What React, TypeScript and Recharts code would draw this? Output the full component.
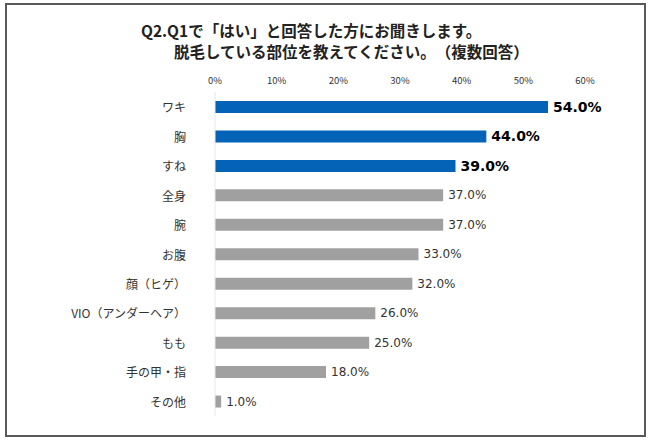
import { BarChart, Bar, XAxis, YAxis, Cell, LabelList } from "recharts";

const categories = [
  "ワキ",
  "胸",
  "すね",
  "全身",
  "腕",
  "お腹",
  "顔（ヒゲ）",
  "VIO（アンダーヘア）",
  "もも",
  "手の甲・指",
  "その他",
];
const values = [54, 44, 39, 37, 37, 33, 32, 26, 25, 18, 1];
const highlighted = [true, true, true, false, false, false, false, false, false, false, false];
const xTicks = [0, 10, 20, 30, 40, 50, 60];
const titleLines = [
  "Q2.Q1で「はい」と回答した方にお聞きします。",
  "脱毛している部位を教えてください。（複数回答）",
];

const data = categories.map((name, i) => ({ name, value: values[i], hl: highlighted[i] }));

const JP = '"Noto Sans CJK JP", "Noto Sans", sans-serif';

const CategoryTick = ({ x, y, payload }: any) => (
  <text
    x={x - 21}
    y={y}
    textAnchor="end"
    dominantBaseline="central"
    fontSize={12}
    fontFamily={JP}
    fill="#333"
  >
    {payload.value}
  </text>
);

const ValueLabel = ({ x, y, width, height, value, index }: any) => {
  const bold = highlighted[index];
  return (
    <text
      x={x + width + 5}
      y={y + height / 2}
      dominantBaseline="central"
      fontFamily='"DejaVu Sans", sans-serif'
      fontSize={bold ? 14 : 12}
      fontWeight={bold ? 700 : 400}
      fill={bold ? "#000" : "#333"}
    >
      {`${Number(value).toFixed(1)}%`}
    </text>
  );
};

export default function App() {
  return (
    <div
      style={{
        position: "absolute",
        left: 0,
        top: 0,
        width: 650,
        height: 443,
        background: "#fff",
        textSpacingTrim: "space-all",
      } as any}
    >
      <div
        style={{
          position: "absolute",
          left: 5,
          top: 3,
          width: 637,
          height: 430,
          border: "2px solid #595959",
        }}
      />
      <div
        style={{
          position: "absolute",
          left: 141,
          top: 20,
          fontFamily: JP,
          fontWeight: 700,
          fontSize: 15.5,
          lineHeight: "21px",
          color: "#222",
          whiteSpace: "nowrap",
        }}
      >
        <div>{titleLines[0]}</div>
        <div style={{ paddingLeft: 33 }}>{titleLines[1]}</div>
      </div>
      <div style={{ position: "absolute", left: 0, top: 0 }}>
        <BarChart
          width={650}
          height={443}
          data={data}
          layout="vertical"
          margin={{ top: 62, right: 65, bottom: 27, left: 0 }}
        >
          <XAxis
            type="number"
            orientation="top"
            domain={[0, 60]}
            ticks={xTicks}
            height={30}
            axisLine={false}
            tickLine={false}
            tickFormatter={(v) => `${v}%`}
            tick={{ fontSize: 9.5, fill: "#333", fontFamily: JP }}
          />
          <YAxis
            type="category"
            dataKey="name"
            width={215}
            tickLine={false}
            axisLine={{ stroke: "#e8e8e8" }}
            tick={<CategoryTick />}
            interval={0}
          />
          <Bar dataKey="value" barSize={12} isAnimationActive={false}>
            {data.map((d, i) => (
              <Cell key={i} fill={d.hl ? "#0563B7" : "#A0A0A0"} />
            ))}
            <LabelList dataKey="value" content={<ValueLabel />} />
          </Bar>
        </BarChart>
      </div>
    </div>
  );
}
